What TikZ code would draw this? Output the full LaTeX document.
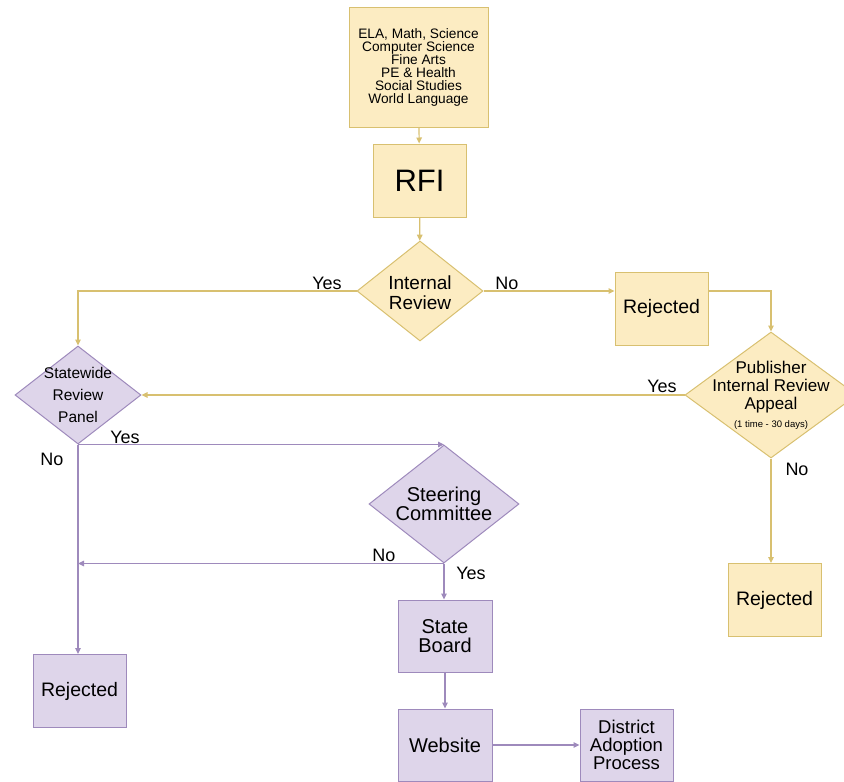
\documentclass[tikz,border=0pt]{standalone}
\usepackage{fontspec}
\setmainfont{Liberation Sans}
\usetikzlibrary{shapes.geometric,arrows.meta}
\definecolor{ylwfill}{RGB}{252,236,194}
\definecolor{ylwline}{RGB}{216,192,112}
\definecolor{prpfill}{RGB}{222,213,234}
\definecolor{prpline}{RGB}{158,138,188}
\tikzset{
  ylwbox/.style={draw=ylwline,fill=ylwfill,line width=1pt,inner sep=0pt,align=center},
  prpbox/.style={draw=prpline,fill=prpfill,line width=1pt,inner sep=0pt,align=center},
  ylwarrow/.style={draw=ylwline,line width=1.2pt,-{Triangle[length=6pt,width=5.5pt]}},
  prparrow/.style={draw=prpline,line width=1.2pt,-{Triangle[length=6pt,width=5.5pt]}},
}
\begin{document}
\begin{tikzpicture}[x=1pt,y=-1pt]
\useasboundingbox (0,0) rectangle (844,782);
\def\bw{93} % box width
\def\bh{73} % box height

% yellow part
\node[ylwbox,minimum width=139,minimum height=120,font=\fontsize{13.7}{13}\selectfont] (subjects) at (418.5,67)
  {ELA, Math, Science\\Computer Science\\Fine Arts\\PE \& Health\\Social Studies\\World Language};
\node[ylwbox,minimum width=\bw,minimum height=\bh,font=\fontsize{31}{32}\selectfont] (rfi) at (419.5,180.5) {RFI};
\node[ylwbox,diamond,minimum width=126,minimum height=100,
  label={[font=\fontsize{19}{20}\selectfont,align=center,yshift=-2pt]center:{Internal\\Review}}] (internal) at (420,291) {};
\node[ylwbox,minimum width=\bw,minimum height=\bh,font=\fontsize{19.5}{20}\selectfont] (rej1) at (661.5,308.5) {Rejected};
\node[ylwbox,diamond,minimum width=172,minimum height=126,
  label={[font=\fontsize{17}{18.3}\selectfont,align=center,yshift=8pt]center:{Publisher\\Internal Review\\Appeal}},
  label={[font=\fontsize{9.5}{10}\selectfont,yshift=-30pt]center:(1 time - 30 days)}] (appeal) at (771,395) {};
\node[ylwbox,minimum width=\bw,minimum height=\bh,font=\fontsize{19.5}{20}\selectfont] (rej2) at (774.5,600) {Rejected};

% purple part
\node[prpbox,diamond,minimum width=126,minimum height=98,
  label={[font=\fontsize{15.5}{21.7}\selectfont,align=center]center:{Statewide\\Review\\Panel}}] (statewide) at (78,395) {};
\node[prpbox,diamond,minimum width=150,minimum height=118,
  label={[font=\fontsize{20}{19.5}\selectfont,align=center]center:{Steering\\Committee}}] (steering) at (444,504) {};
\node[prpbox,minimum width=\bw,minimum height=\bh,font=\fontsize{19.5}{20}\selectfont] (rej3) at (79.5,691) {Rejected};
\node[prpbox,minimum width=94,minimum height=72,font=\fontsize{20}{18.3}\selectfont] (board) at (445,636) {State\\Board};
\node[prpbox,minimum width=94,minimum height=72,font=\fontsize{20}{20}\selectfont] (website) at (445,745) {Website};
\node[prpbox,minimum width=\bw,minimum height=72,font=\fontsize{18.5}{18.3}\selectfont] (district) at (626.5,745) {District\\Adoption\\Process};

% connectors
\draw[ylwarrow] (subjects) -- (rfi);
\draw[ylwarrow] (rfi) -- (internal);
\draw[ylwarrow] (internal.west) -| (statewide.north);
\draw[ylwarrow] (internal.east) -- (internal.east -| rej1.west);
\draw[ylwarrow] (rej1.east |- internal.east) -| (appeal.north);
\draw[ylwarrow] (appeal.west) -- (statewide.east);
\draw[ylwarrow] (appeal.south) -- (appeal.south |- rej2.north);
\draw[prparrow] (statewide.south) -- (steering.north);
\draw[prparrow] (statewide.south) -- (statewide.south |- rej3.north);
\draw[prparrow] (steering.south) -- (steering.south -| statewide.south);
\draw[prparrow] (steering.south) -- (steering.south |- board.north);
\draw[prparrow] (board) -- (website);
\draw[prparrow] (website) -- (district);

% yes / no labels
\foreach \n/\x/\y/\t in {yesA/327/283/Yes, noA/507/283/No, yesB/662/386/Yes, noB/797/469/No,
    yesC/125/437/Yes, noC/52/459/No, noD/384/555/No, yesD/471/573/Yes}
  \node[font=\fontsize{18}{18}\selectfont,inner sep=0pt] (\n) at (\x,\y) {\t};
\end{tikzpicture}
\end{document}
